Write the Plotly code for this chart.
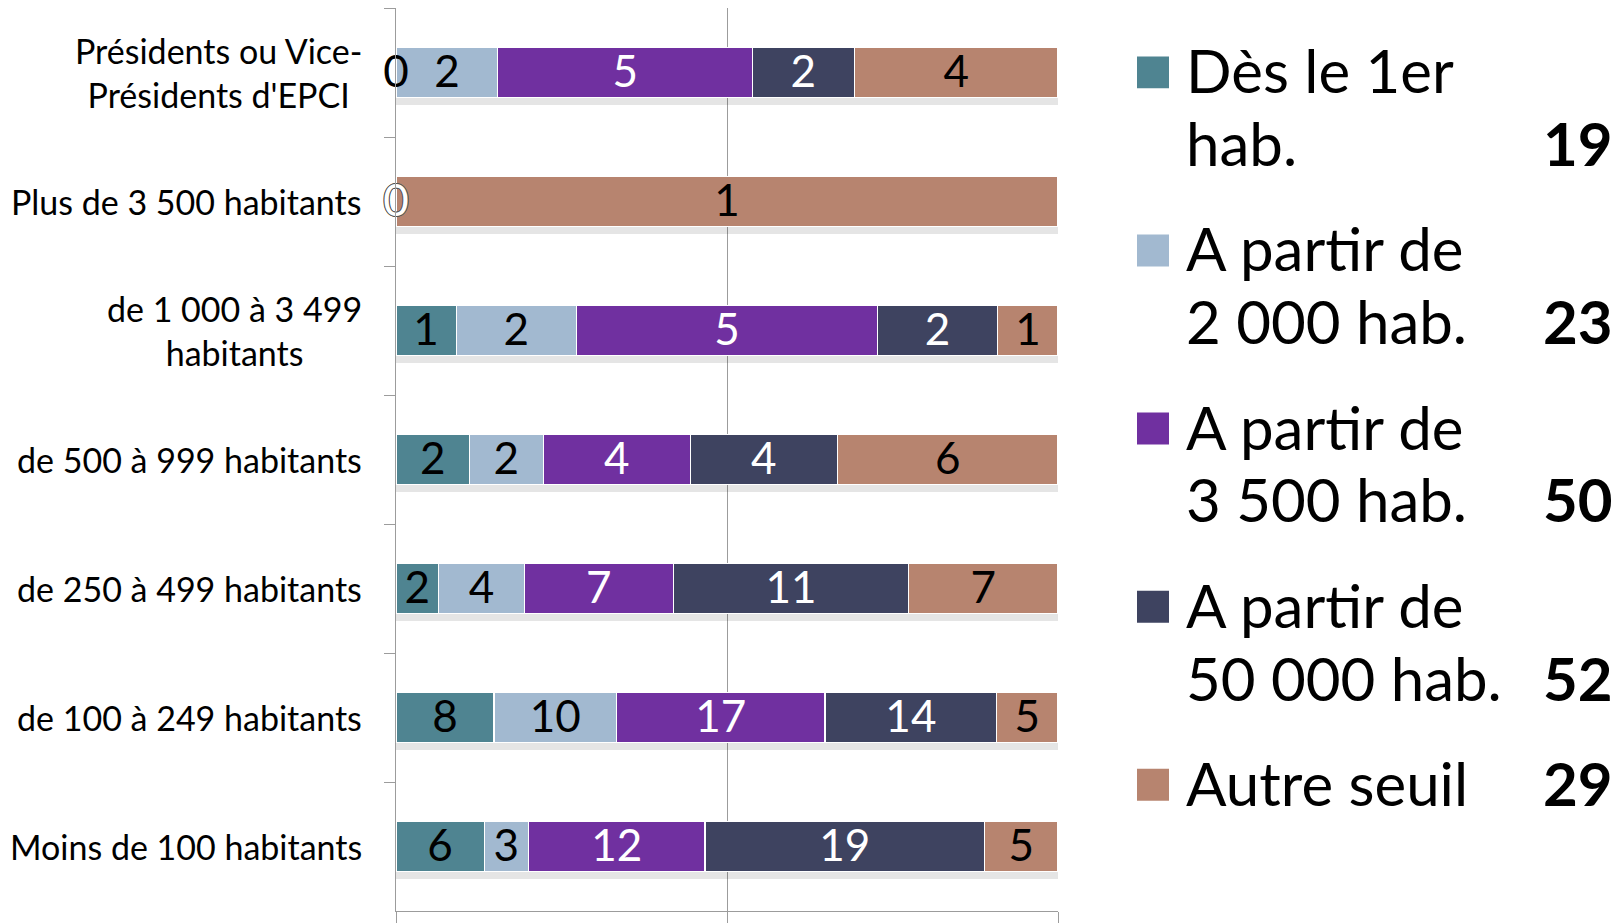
import plotly.graph_objects as go

# ---------------- data ----------------
categories = [
    "Présidents ou Vice-<br>Présidents d'EPCI",
    "Plus de 3 500 habitants",
    "de 1 000 à 3 499<br>habitants",
    "de 500 à 999 habitants",
    "de 250 à 499 habitants",
    "de 100 à 249 habitants",
    "Moins de 100 habitants",
]
series_names = [
    "Dès le 1er<br>hab.",
    "A partir de<br>2 000 hab.",
    "A partir de<br>3 500 hab.",
    "A partir de<br>50 000 hab.",
    "Autre seuil",
]
des_1er = [0, 0, 1, 2, 2, 8, 6]
a_partir_2000 = [2, 0, 2, 2, 4, 10, 3]
a_partir_3500 = [5, 0, 5, 4, 7, 17, 12]
a_partir_50000 = [2, 0, 2, 4, 11, 14, 19]
autre_seuil = [4, 1, 1, 6, 7, 5, 5]
series_values = [des_1er, a_partir_2000, a_partir_3500, a_partir_50000, autre_seuil]

# ---------------- style ----------------
colors = ["#4F8491", "#A2B9D0", "#7030A0", "#3E4360", "#B7846F"]
label_colors = ["black", "black", "white", "white", "black"]
FONT = "Lato, 'Open Sans', sans-serif"

# page offset (browser body margin) -> figure coordinates
OFF = 8
W, H = 1615, 915
PLOT_X0, PLOT_X1 = 396, 1058      # page px
PLOT_Y0, PLOT_Y1 = 8.3, 912.7     # page px
L = PLOT_X0 - OFF
R = W - (PLOT_X1 - OFF)
T = 0
B = H - round(PLOT_Y1 - OFF)
PW = W - L - R
PH = H - T - B


def px(xpage):
    return (xpage - OFF - L) / PW


def py(ypage):
    return (H - B - (ypage - OFF)) / PH


fig = go.Figure()

n = len(categories)
cat_px = PH / n
bar_w = 0.39
row_totals = [sum(v[i] for v in series_values) for i in range(n)]

# soft drop shadow below bars (base axis, drawn underneath)
fig.add_trace(go.Bar(
    y=categories, x=row_totals, orientation="h",
    width=bar_w, offset=-bar_w / 2 + 7 / cat_px,
    marker=dict(color="rgba(0,0,0,0.10)", line=dict(width=0)),
    hoverinfo="skip", showlegend=False, yaxis="y",
))

# main stacked bars
for name, vals, col in zip(series_names, series_values, colors):
    fig.add_trace(go.Bar(
        y=categories, x=vals, orientation="h", name=name.replace("<br>", " "),
        width=bar_w,
        marker=dict(color=col, line=dict(color="white", width=1.2)),
        hoverinfo="skip", showlegend=False, yaxis="y2",
    ))

# value labels, centred in each segment (percent-normalised positions)
for k, (vals, tcol) in enumerate(zip(series_values, label_colors)):
    xs, ys, ts = [], [], []
    zx, zy, zt = [], [], []
    for i, v in enumerate(vals):
        before = sum(series_values[j][i] for j in range(k))
        if v > 0:
            xs.append(100 * (before + v / 2) / row_totals[i])
            ys.append(categories[i])
            ts.append(str(v))
        else:
            zx.append(100 * before / row_totals[i])
            zy.append(categories[i])
            zt.append(str(v))
    fig.add_trace(go.Scatter(
        x=xs, y=ys, mode="text", text=ts, textposition="middle center",
        textfont=dict(family=FONT, size=44, color=tcol),
        showlegend=False, hoverinfo="skip", yaxis="y3", cliponaxis=False,
    ))
    if zx:
        tf = dict(family=FONT, size=44, color=tcol)
        if tcol == "white":
            tf["shadow"] = "1px 0 0 #555, -1px 0 0 #555, 0 1px 0 #555, 0 -1px 0 #555"
        fig.add_trace(go.Scatter(
            x=zx, y=zy, mode="text", text=zt, textposition="middle center",
            textfont=tf, showlegend=False, hoverinfo="skip", yaxis="y3",
            cliponaxis=False,
        ))

# category labels (centred multi-line, right-aligned block)
annotations = []
for c in categories:
    annotations.append(dict(
        x=px(364), xref="paper", y=c, yref="y", xanchor="right", yanchor="middle",
        text=c, align="center", showarrow=False,
        font=dict(family=FONT, size=34, color="black"),
    ))

# custom legend with totals
totals = [sum(v) for v in series_values]
SQ_Y0, STEP = 72.5, 178.5
TXT_DY = -2         # text anchor offset vs square centre
LINE_H = 73
for i, (name, col, tot) in enumerate(zip(series_names, colors, totals)):
    yc = SQ_Y0 + i * STEP
    fig.add_shape(type="rect", xref="paper", yref="paper",
                  x0=px(1137), x1=px(1169), y0=py(yc - 16), y1=py(yc + 16),
                  fillcolor=col, line=dict(width=0))
    lines = name.split("<br>")
    for j, line in enumerate(lines):
        annotations.append(dict(
            x=px(1184), xref="paper", y=py(yc + TXT_DY + j * LINE_H), yref="paper",
            xanchor="left", yanchor="middle", text=line, align="left", showarrow=False,
            font=dict(family=FONT, size=60, color="black"),
        ))
    annotations.append(dict(
        x=px(1615), xref="paper", y=py(yc + TXT_DY + (len(lines) - 1) * LINE_H),
        yref="paper", xanchor="right", yanchor="middle", text=f"<b>{tot}</b>",
        showarrow=False, font=dict(family=FONT, size=60, color="black"),
    ))

GRID = "#9c9c9c"
label_shift = 4 / cat_px   # nudge value labels slightly down
fig.update_layout(
    width=W, height=H,
    margin=dict(l=L, r=R, t=T, b=B, pad=0),
    paper_bgcolor="white", plot_bgcolor="white",
    barmode="stack", barnorm="percent",
    font=dict(family=FONT, color="black"),
    annotations=annotations,
    xaxis=dict(
        range=[0, 100], tickvals=[0, 50, 100], showticklabels=False,
        showgrid=True, gridcolor=GRID, gridwidth=1.3,
        showline=True, linecolor=GRID, linewidth=1.3,
        ticks="outside", ticklen=12, tickcolor=GRID, tickwidth=1.3,
        zeroline=False, fixedrange=True,
    ),
    yaxis=dict(
        type="category", categoryorder="array", categoryarray=categories,
        range=[n - 0.5, -0.5],
        showticklabels=False, showgrid=False, zeroline=False,
        showline=True, linecolor=GRID, linewidth=1.3,
        ticks="outside", tickson="boundaries", ticklen=11,
        tickcolor=GRID, tickwidth=1.3,
    ),
    yaxis2=dict(
        type="category", categoryorder="array", categoryarray=categories,
        range=[n - 0.5, -0.5], overlaying="y",
        showticklabels=False, showgrid=False, zeroline=False, showline=False,
        ticks="",
    ),
    yaxis3=dict(
        type="category", categoryorder="array", categoryarray=categories,
        range=[n - 0.5 - label_shift, -0.5 - label_shift], overlaying="y",
        showticklabels=False, showgrid=False, zeroline=False, showline=False,
        ticks="",
    ),
    showlegend=False,
)

fig.write_html("out.html")
